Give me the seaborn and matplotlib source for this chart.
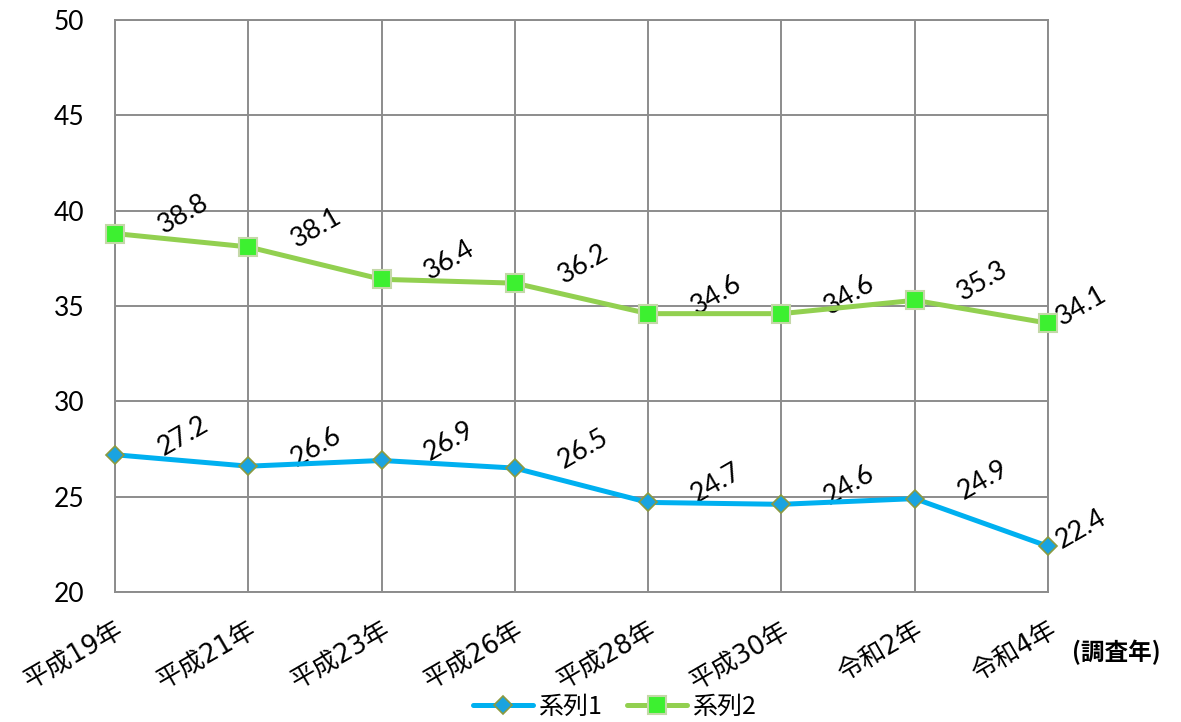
import pandas as pd
import matplotlib
matplotlib.use('Agg')
import matplotlib.pyplot as plt
import seaborn as sns

years = ['平成19年', '平成21年', '平成23年', '平成26年', '平成28年', '平成30年', '令和2年', '令和4年']
series1 = [27.2, 26.6, 26.9, 26.5, 24.7, 24.6, 24.9, 22.4]
series2 = [38.8, 38.1, 36.4, 36.2, 34.6, 34.6, 35.3, 34.1]
names = ['系列1', '系列2']

sns.set_style('white')
plt.rcParams['font.family'] = ['Noto Sans CJK JP', 'DejaVu Sans']
plt.rcParams['text.color'] = 'black'
plt.rcParams['xtick.color'] = 'black'
plt.rcParams['ytick.color'] = 'black'

df = pd.DataFrame({'year': years, names[0]: series1, names[1]: series2})

fig = plt.figure(figsize=(11.81, 7.22), dpi=100)
ax = fig.add_axes([0.0974, 0.180, 0.790, 0.7923])

pos = list(range(len(years)))
sns.lineplot(x=pos, y=df[names[0]], ax=ax, color='#00B0F0', linewidth=3.6,
             marker='D', markersize=9, markerfacecolor='#1AA3E0',
             markeredgecolor='#8C9A40', markeredgewidth=1.2, label=names[0],
             sort=False, clip_on=False, zorder=5)
sns.lineplot(x=pos, y=df[names[1]], ax=ax, color='#92D050', linewidth=3.6,
             marker='s', markersize=13, markerfacecolor='#3DF030',
             markeredgecolor='#C4D8A8', markeredgewidth=1.5, label=names[1],
             sort=False, clip_on=False, zorder=5)

# data labels up-right of each point
for col in names:
    for i, v in enumerate(df[col]):
        off = (68, 19) if i < len(years) - 1 else (33, 17)
        ax.annotate(f'{v:.1f}', (i, v), xytext=off, textcoords='offset pixels',
                    ha='center', va='center', rotation=30, fontsize=19.5,
                    family=['Lato', 'DejaVu Sans'], color='black')

ax.set_xlim(0, len(years) - 1)
ax.set_ylim(20, 50)
ax.set_yticks(range(20, 51, 5))
ax.set_xticks(pos)
ax.set_xticklabels(years, rotation=30, ha='right', va='top', rotation_mode='anchor',
                   fontsize=18.5, family=['DejaVu Sans', 'Noto Sans CJK JP'])
for t in ax.get_yticklabels():
    t.set_family(['Lato', 'DejaVu Sans'])
    t.set_fontsize(19)
ax.tick_params(axis='y', length=0, pad=22)
ax.tick_params(axis='x', length=0, pad=18)
ax.set_xlabel('')
ax.set_ylabel('')
ax.grid(True, color='#8C8C8C', linewidth=1.4)
for s in ax.spines.values():
    s.set_color('#8C8C8C')
    s.set_linewidth(1.4)

ax.text(1.026, -0.105, '(調査年)', transform=ax.transAxes, fontsize=17, fontweight='bold',
        ha='left', va='center')

ax.legend_.remove()
h, l = ax.get_legend_handles_labels()
fig.legend(h, l, loc='lower center', bbox_to_anchor=(0.52, -0.028), ncol=2, frameon=False,
           fontsize=18, handlelength=2.4, handletextpad=0.2, columnspacing=1.0)

fig.savefig('out.png', dpi=100)
